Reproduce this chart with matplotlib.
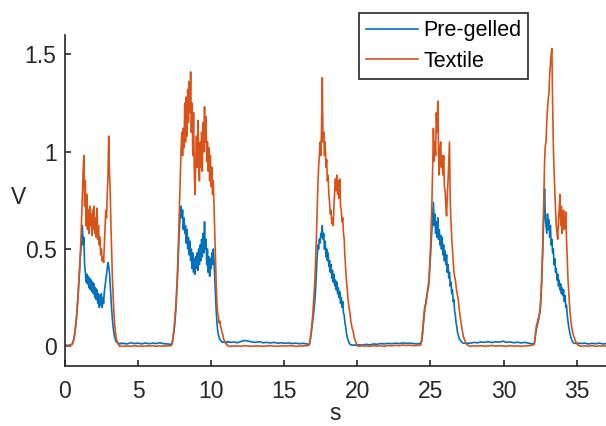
import matplotlib.pyplot as plt
import numpy as np

plt.rcParams['font.family'] = ['Liberation Sans', 'DejaVu Sans']

# sampled signal: bursts at 0.05 s steps, quiet parts between bursts at 0.25 s steps
burst_start = [0.5, 7.3, 16.7, 24.3, 32.1]
burst_dt = 0.05
gap_start = [0.0, 4.0, 11.3, 20.1, 27.7, 35.3]
gap_dt = 0.25

pregelled_bursts = [
    [0.01, 0.02, 0.035, 0.05, 0.08, 0.11, 0.15, 0.20, 0.26, 0.33, 0.38, 0.45, 0.50, 0.56, 0.62,
     0.52, 0.56, 0.42, 0.38, 0.33, 0.37, 0.32, 0.36, 0.30, 0.35, 0.29, 0.34, 0.28, 0.33, 0.27,
     0.32, 0.25, 0.30, 0.24, 0.29, 0.22, 0.27, 0.20, 0.26, 0.21, 0.27, 0.20, 0.25, 0.22, 0.28,
     0.31, 0.34, 0.37, 0.40, 0.43, 0.41, 0.38, 0.32, 0.25, 0.19, 0.14, 0.10, 0.07, 0.05, 0.035,
     0.025, 0.02, 0.018, 0.015, 0.015, 0.012, 0.015, 0.013, 0.016, 0.014],
    [0.01, 0.02, 0.04, 0.07, 0.10, 0.15, 0.20, 0.27, 0.35, 0.45, 0.55, 0.63, 0.68, 0.72, 0.66,
     0.70, 0.60, 0.66, 0.58, 0.62, 0.53, 0.60, 0.50, 0.56, 0.47, 0.54, 0.44, 0.50, 0.40, 0.48,
     0.38, 0.45, 0.37, 0.46, 0.40, 0.48, 0.39, 0.50, 0.42, 0.52, 0.44, 0.55, 0.46, 0.58, 0.48,
     0.64, 0.50, 0.55, 0.42, 0.50, 0.38, 0.46, 0.36, 0.45, 0.40, 0.48, 0.42, 0.50, 0.44, 0.35,
     0.26, 0.18, 0.12, 0.08, 0.06, 0.045, 0.035, 0.03, 0.025, 0.022, 0.02, 0.022, 0.02, 0.023,
     0.02, 0.022, 0.02, 0.024, 0.021, 0.022],
    [0.01, 0.02, 0.04, 0.07, 0.10, 0.13, 0.16, 0.20, 0.24, 0.30, 0.38, 0.46, 0.52, 0.50, 0.55,
     0.53, 0.58, 0.56, 0.62, 0.55, 0.58, 0.50, 0.54, 0.46, 0.50, 0.44, 0.48, 0.41, 0.44, 0.38,
     0.42, 0.35, 0.39, 0.33, 0.37, 0.31, 0.34, 0.29, 0.33, 0.27, 0.30, 0.25, 0.28, 0.22, 0.25,
     0.20, 0.23, 0.17, 0.16, 0.12, 0.10, 0.07, 0.05, 0.035, 0.025, 0.015, 0.01, 0.008, 0.006,
     0.005, 0.006, 0.005, 0.007, 0.005, 0.006, 0.005, 0.007, 0.006],
    [0.015, 0.02, 0.03, 0.06, 0.10, 0.14, 0.18, 0.21, 0.24, 0.26, 0.28, 0.30, 0.33, 0.40, 0.48,
     0.55, 0.62, 0.68, 0.74, 0.62, 0.68, 0.58, 0.64, 0.56, 0.66, 0.55, 0.60, 0.52, 0.57, 0.50,
     0.56, 0.47, 0.52, 0.44, 0.49, 0.42, 0.47, 0.38, 0.42, 0.35, 0.38, 0.31, 0.33, 0.27, 0.29,
     0.23, 0.24, 0.18, 0.16, 0.12, 0.10, 0.07, 0.06, 0.04, 0.035, 0.03, 0.025, 0.02, 0.018,
     0.016, 0.015, 0.016, 0.014, 0.016, 0.015, 0.017, 0.015, 0.016],
    [0.015, 0.04, 0.07, 0.09, 0.11, 0.12, 0.14, 0.16, 0.18, 0.24, 0.32, 0.43, 0.55, 0.70, 0.81,
     0.66, 0.62, 0.58, 0.68, 0.60, 0.65, 0.56, 0.62, 0.52, 0.55, 0.48, 0.50, 0.42, 0.45, 0.38,
     0.40, 0.34, 0.37, 0.31, 0.34, 0.29, 0.32, 0.27, 0.30, 0.26, 0.29, 0.23, 0.26, 0.20, 0.21,
     0.16, 0.13, 0.10, 0.08, 0.06, 0.045, 0.035, 0.025, 0.02, 0.016, 0.015, 0.016, 0.014, 0.016,
     0.015, 0.016, 0.014, 0.015, 0.016],
]
textile_bursts = [
    [0.01, 0.02, 0.03, 0.05, 0.08, 0.11, 0.15, 0.20, 0.25, 0.31, 0.38, 0.46, 0.55, 0.66, 0.78,
     0.90, 0.98, 0.72, 0.85, 0.62, 0.78, 0.60, 0.70, 0.58, 0.72, 0.62, 0.68, 0.57, 0.70, 0.60,
     0.72, 0.58, 0.66, 0.56, 0.71, 0.55, 0.62, 0.52, 0.56, 0.47, 0.50, 0.44, 0.46, 0.43, 0.52,
     0.62, 0.70, 0.66, 0.78, 0.88, 1.08, 0.90, 0.80, 0.62, 0.48, 0.36, 0.26, 0.18, 0.12, 0.08,
     0.05, 0.03, 0.02, 0.01, 0.005, 0.0, 0.0, 0.0, 0.0, 0.0],
    [0.005, 0.02, 0.05, 0.08, 0.12, 0.17, 0.22, 0.30, 0.38, 0.50, 0.62, 0.76, 0.90, 1.02, 1.10,
     0.98, 1.12, 1.02, 1.25, 1.05, 1.28, 1.08, 1.32, 1.15, 1.36, 1.20, 1.41, 1.10, 1.25, 0.98,
     1.20, 0.90, 0.78, 0.95, 1.08, 0.92, 1.16, 0.95, 0.85, 1.05, 0.92, 1.10, 0.90, 1.15, 1.00,
     1.23, 1.05, 1.18, 0.95, 1.05, 0.90, 1.02, 0.85, 0.98, 0.82, 0.92, 0.78, 0.85, 0.72, 0.60,
     0.45, 0.32, 0.22, 0.17, 0.15, 0.12, 0.13, 0.10, 0.09, 0.07, 0.06, 0.04, 0.03, 0.02, 0.015,
     0.01, 0.005, 0.005, 0.0, 0.0],
    [0.005, 0.02, 0.05, 0.08, 0.12, 0.16, 0.22, 0.28, 0.35, 0.45, 0.56, 0.70, 0.83, 0.92, 0.98,
     1.05, 0.98, 1.12, 1.38, 1.05, 1.10, 0.98, 1.05, 0.92, 0.96, 0.85, 0.88, 0.78, 0.74, 0.68,
     0.70, 0.63, 0.66, 0.62, 0.72, 0.80, 0.86, 0.80, 0.88, 0.78, 0.85, 0.76, 0.86, 0.72, 0.70,
     0.64, 0.66, 0.58, 0.55, 0.46, 0.40, 0.34, 0.30, 0.25, 0.22, 0.19, 0.17, 0.13, 0.11, 0.09,
     0.08, 0.06, 0.04, 0.03, 0.02, 0.01, 0.005, 0.0],
    [0.005, 0.01, 0.03, 0.07, 0.12, 0.16, 0.20, 0.21, 0.22, 0.25, 0.29, 0.31, 0.35, 0.42, 0.50,
     0.62, 0.75, 0.92, 1.12, 0.95, 1.05, 0.98, 1.20, 1.10, 1.26, 1.00, 0.88, 1.02, 1.05, 0.92,
     0.98, 0.88, 0.98, 0.82, 0.80, 0.72, 0.67, 0.78, 0.85, 0.95, 1.05, 0.75, 0.64, 0.56, 0.50,
     0.44, 0.38, 0.36, 0.34, 0.31, 0.28, 0.26, 0.24, 0.20, 0.17, 0.14, 0.12, 0.09, 0.07, 0.05,
     0.04, 0.03, 0.02, 0.015, 0.01, 0.005, 0.003, 0.002],
    [0.01, 0.04, 0.08, 0.11, 0.12, 0.14, 0.15, 0.17, 0.20, 0.26, 0.35, 0.46, 0.60, 0.75, 0.95,
     1.03, 1.05, 1.15, 1.22, 1.27, 1.30, 1.40, 1.45, 1.50, 1.53, 1.25, 1.03, 0.90, 0.80, 0.70,
     0.62, 0.58, 0.55, 0.65, 0.70, 0.78, 0.62, 0.72, 0.58, 0.66, 0.70, 0.60, 0.62, 0.69, 0.55,
     0.45, 0.35, 0.28, 0.22, 0.17, 0.13, 0.10, 0.08, 0.06, 0.05, 0.04, 0.03, 0.02, 0.015, 0.01,
     0.005, 0.003, 0.002, 0.002],
]
pregelled_gaps = [
    [0.005, 0.005],
    [0.015, 0.012, 0.018, 0.014, 0.016, 0.012, 0.017, 0.013, 0.016, 0.014, 0.018, 0.013, 0.012, 0.01],
    [0.02, 0.022, 0.018, 0.025, 0.03, 0.026, 0.022, 0.02, 0.024, 0.018, 0.02, 0.017, 0.02, 0.016,
     0.018, 0.015, 0.017, 0.014, 0.016, 0.013, 0.015, 0.012],
    [0.008, 0.006, 0.01, 0.007, 0.012, 0.01, 0.014, 0.012, 0.015, 0.013, 0.016, 0.014, 0.017, 0.015,
     0.016, 0.014, 0.012],
    [0.015, 0.02, 0.018, 0.022, 0.02, 0.024, 0.019, 0.023, 0.021, 0.026, 0.02, 0.022, 0.018, 0.021,
     0.017, 0.02, 0.016, 0.012],
    [0.014, 0.016, 0.012, 0.015, 0.013, 0.016, 0.012, 0.014],
]
textile_gaps = [
    [0.0, 0.0],
    [0.0, 0.002, 0.0, 0.003, 0.001, 0.0, 0.002, 0.001, 0.003, 0.0, 0.002, 0.001, 0.002, 0.003],
    [0.0, 0.001, 0.002, 0.0, 0.003, 0.001, 0.0, 0.002, 0.001, 0.0, 0.002, 0.003, 0.001, 0.0,
     0.002, 0.001, 0.003, 0.002, 0.0, 0.001, 0.002, 0.003],
    [0.0, 0.002, 0.001, 0.0, 0.003, 0.001, 0.002, 0.0, 0.004, 0.002, 0.005, 0.003, 0.006, 0.004,
     0.005, 0.003, 0.004],
    [0.0, 0.002, 0.001, 0.003, 0.0, 0.002, 0.004, 0.001, 0.003, 0.002, 0.0, 0.003, 0.001, 0.002,
     0.0, 0.002, 0.003, 0.005],
    [0.0, 0.002, 0.001, 0.003, 0.0, 0.002, 0.001, 0.002],
]


def build(gaps, bursts):
    t, v = [], []
    for i, g in enumerate(gaps):
        t.extend(gap_start[i] + gap_dt * np.arange(len(g)))
        v.extend(g)
        if i < len(bursts):
            t.extend(burst_start[i] + burst_dt * np.arange(len(bursts[i])))
            v.extend(bursts[i])
    return np.array(t), np.array(v)


t_pre, v_pre = build(pregelled_gaps, pregelled_bursts)
t_tex, v_tex = build(textile_gaps, textile_bursts)

dark = '#262626'
fig = plt.figure(figsize=(6.06, 4.26), dpi=100)
ax = fig.add_axes([0.107, 0.1415, 0.893, 0.7765])
ax.plot(t_pre, v_pre, color='#0072BD', lw=1.2, label='Pre-gelled')
ax.plot(t_tex, v_tex, color='#D95319', lw=1.2, label='Textile')

ax.set_xlim(0, 37)
ax.set_ylim(-0.1, 1.6)
ax.set_xticks([0, 5, 10, 15, 20, 25, 30, 35])
ax.set_yticks([0, 0.5, 1, 1.5])
ax.set_yticklabels(['0', '0.5', '1', '1.5'])
ax.spines['top'].set_visible(False)
ax.spines['right'].set_visible(False)
for s in ['left', 'bottom']:
    ax.spines[s].set_color(dark)
    ax.spines[s].set_linewidth(1.2)
ax.tick_params(direction='in', length=4, width=1.2, color=dark, labelcolor=dark, labelsize=16.5)
ax.tick_params(axis='x', pad=10.5)
ax.tick_params(axis='y', pad=6)
ax.set_xlabel('s', fontsize=16.5, color=dark, va='baseline')
ax.xaxis.set_label_coords(0.5, -0.163)
ax.set_ylabel('V', fontsize=16.5, color=dark, rotation=0, ha='center', va='center')
ax.yaxis.set_label_coords(-0.0863, 0.5076)

leg = fig.legend(loc='upper left', bbox_to_anchor=(0.592, 0.9695), bbox_transform=fig.transFigure,
                 borderaxespad=0, fontsize=15.5, handlelength=2.42, handletextpad=0.24,
                 borderpad=0.33, labelspacing=0.44, fancybox=False, framealpha=1)
leg.get_frame().set_edgecolor(dark)
leg.get_frame().set_linewidth(1.2)

fig.savefig('out.png', dpi=100)
